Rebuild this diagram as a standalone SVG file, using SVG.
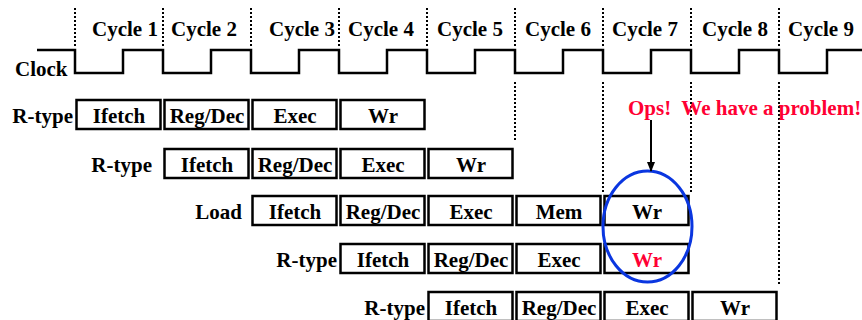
<svg xmlns="http://www.w3.org/2000/svg" width="862" height="320" viewBox="0 0 862 320">
<style>
text{font-family:"Liberation Serif","Times New Roman",serif;font-weight:bold;font-size:21px;fill:#000}
.c{text-anchor:middle}
.e{text-anchor:end}
.red{fill:#ff0033}
.box{fill:#fff;stroke:#000;stroke-width:2.5}
.dot{stroke:#000;stroke-width:2;stroke-dasharray:2,2;fill:none}
.clk{fill:none;stroke:#000;stroke-width:2.5}
</style>
<defs>
<marker id="ah" markerWidth="10" markerHeight="10" refX="9" refY="5" orient="auto" markerUnits="userSpaceOnUse">
<path d="M0,1 L10,5 L0,9 Z" fill="#000"/>
</marker>
</defs>
<g id="cycles">
<line class="dot" x1="75" y1="8" x2="75" y2="46"/>
<line class="dot" x1="163" y1="8" x2="163" y2="46"/>
<line class="dot" x1="251" y1="8" x2="251" y2="46"/>
<line class="dot" x1="339" y1="8" x2="339" y2="46"/>
<line class="dot" x1="427" y1="8" x2="427" y2="46"/>
<line class="dot" x1="515" y1="8" x2="515" y2="46"/>
<line class="dot" x1="603" y1="8" x2="603" y2="46"/>
<line class="dot" x1="691" y1="8" x2="691" y2="46"/>
<line class="dot" x1="779" y1="8" x2="779" y2="46"/>
<text x="92" y="36">Cycle 1</text>
<text x="171" y="36">Cycle 2</text>
<text x="269" y="36">Cycle 3</text>
<text x="348" y="36">Cycle 4</text>
<text x="437" y="36">Cycle 5</text>
<text x="525" y="36">Cycle 6</text>
<text x="612" y="36">Cycle 7</text>
<text x="702" y="36">Cycle 8</text>
<text x="788" y="36">Cycle 9</text>
</g>
<g id="clock">
<text x="15" y="76">Clock</text>
<path class="clk" d="M37,50 H75 V73 H123 V50 H163 V73 H211 V50 H251 V73 H299 V50 H339 V73 H387 V50 H427 V73 H475 V50 H515 V73 H563 V50 H603 V73 H651 V50 H691 V73 H739 V50 H779 V73 H827 V50 H862"/>
</g>
<g id="guides">
<line class="dot" x1="515" y1="82" x2="515" y2="141"/>
<line class="dot" x1="603" y1="82" x2="603" y2="194"/>
<line class="dot" x1="691" y1="82" x2="691" y2="194"/>
<line class="dot" x1="779" y1="82" x2="779" y2="284"/>
</g>
<g id="row1">
<text class="e" x="73" y="123">R-type</text>
<rect class="box" x="76.5" y="100" width="84" height="29"/><text class="c" x="119" y="123">Ifetch</text>
<rect class="box" x="164.5" y="100" width="84" height="29"/><text class="c" x="207" y="123">Reg/Dec</text>
<rect class="box" x="252.5" y="100" width="84" height="29"/><text class="c" x="295" y="123">Exec</text>
<rect class="box" x="340.5" y="100" width="84" height="29"/><text class="c" x="383" y="123">Wr</text>
</g>
<g id="row2">
<text class="e" x="152" y="172">R-type</text>
<rect class="box" x="164.5" y="149" width="84" height="29"/><text class="c" x="207" y="172">Ifetch</text>
<rect class="box" x="252.5" y="149" width="84" height="29"/><text class="c" x="295" y="172">Reg/Dec</text>
<rect class="box" x="340.5" y="149" width="84" height="29"/><text class="c" x="383" y="172">Exec</text>
<rect class="box" x="428.5" y="149" width="84" height="29"/><text class="c" x="471" y="172">Wr</text>
</g>
<g id="row3">
<text class="e" x="242" y="219">Load</text>
<rect class="box" x="252.5" y="196" width="84" height="29"/><text class="c" x="295" y="219">Ifetch</text>
<rect class="box" x="340.5" y="196" width="84" height="29"/><text class="c" x="383" y="219">Reg/Dec</text>
<rect class="box" x="428.5" y="196" width="84" height="29"/><text class="c" x="471" y="219">Exec</text>
<rect class="box" x="516.5" y="196" width="84" height="29"/><text class="c" x="559" y="219">Mem</text>
<rect class="box" x="604.5" y="196" width="84" height="29"/><text class="c" x="647" y="219">Wr</text>
</g>
<g id="row4">
<text class="e" x="337" y="267">R-type</text>
<rect class="box" x="340.5" y="244" width="84" height="29"/><text class="c" x="383" y="267">Ifetch</text>
<rect class="box" x="428.5" y="244" width="84" height="29"/><text class="c" x="471" y="267">Reg/Dec</text>
<rect class="box" x="516.5" y="244" width="84" height="29"/><text class="c" x="559" y="267">Exec</text>
<rect class="box" x="604.5" y="244" width="84" height="29"/><text class="c red" x="647" y="267">Wr</text>
</g>
<g id="row5">
<text class="e" x="425" y="315">R-type</text>
<rect class="box" x="428.5" y="292" width="84" height="29"/><text class="c" x="471" y="315">Ifetch</text>
<rect class="box" x="516.5" y="292" width="84" height="29"/><text class="c" x="559" y="315">Reg/Dec</text>
<rect class="box" x="604.5" y="292" width="84" height="29"/><text class="c" x="647" y="315">Exec</text>
<rect class="box" x="692.5" y="292" width="84" height="29"/><text class="c" x="735" y="315">Wr</text>
</g>
<g id="problem">
<text class="red" x="628" y="115" xml:space="preserve">Ops!  We have a problem!</text>
<ellipse cx="647.5" cy="226.5" rx="44.5" ry="55.5" fill="none" stroke="#0a36e0" stroke-width="3"/>
</g>
<g id="connectors">
<line x1="651" y1="120" x2="651" y2="171" stroke="#000" stroke-width="2" marker-end="url(#ah)"/>
</g>
</svg>
